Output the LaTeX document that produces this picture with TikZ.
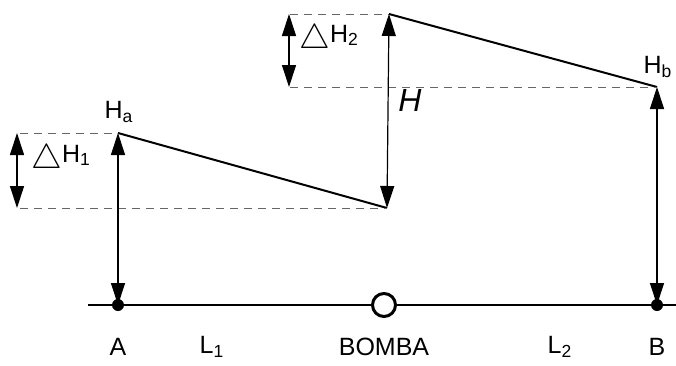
\documentclass[tikz,border=0pt]{standalone}
\usepackage{fontspec}
\setmainfont{Liberation Sans}
\usetikzlibrary{arrows.meta, positioning}
\tikzset{
    % --- Head line / level arrow (double headed) ---
    level arrow/.style = {
        {Triangle[length=11pt, width=7pt]}-{Triangle[length=11pt, width=7pt]},
        line width=0.6pt
    },
    % --- Hydraulic grade line ---
    grade line/.style = {
        line width=1pt
    },
    % --- Reference level (dashed) ---
    ref level/.style = {
        dashed, dash pattern=on 4pt off 3pt, line width=0.5pt, black!60
    },
    % --- Pipe axis ---
    pipe/.style = {
        line width=0.8pt
    },
    % --- Point on the pipe ---
    dot/.style = {
        circle, fill=black, minimum size=6pt, inner sep=0pt
    },
    % --- Pump symbol ---
    pump/.style = {
        circle, draw, line width=1.5pt, fill=white,
        minimum size=11.5pt, inner sep=0pt
    },
    % --- Text labels ---
    label text/.style = {
        font=\fontsize{12.5}{15}\selectfont, inner sep=1pt
    }
}
% head loss label
\newcommand{\headloss}[1]{%
    {\fontsize{18}{18}\selectfont$\triangle$}\raisebox{0.5ex}{H\textsubscript{#1}}}

\begin{document}
\begin{tikzpicture}[x=0.5pt, y=-0.5pt]
\useasboundingbox (0,0) rectangle (676,365);

% ---------------------------------------------------------
% Pipe with points A, B and the pump
% ---------------------------------------------------------
\coordinate (PipeL) at (88, 305);
\coordinate (PipeR) at (676, 305);
\draw[pipe] (PipeL) -- (PipeR);

\node[dot] (A) at (118, 305) {};
\node[dot] (B) at (657, 305) {};
\node[pump] (Pump) at (384, 305) {};

\node[label text] (LA) at (118, 347) {A};
\node[label text] (LL1) at (212, 347) {L\textsubscript{1}};
\node[label text] (LPump) at (384, 347) {BOMBA};
\node[label text] (LL2) at (560, 347) {L\textsubscript{2}};
\node[label text] (LB) at (657, 347) {B};

% ---------------------------------------------------------
% Grade line levels
% ---------------------------------------------------------
\coordinate (Ha) at (118, 133);
\coordinate (Hin) at (387, 208);
\coordinate (Hout) at (389, 14);
\coordinate (Hb) at (657, 87);

\draw[grade line] (Ha) -- (Hin);
\draw[grade line] (Hout) -- (Hb);

% reference levels
\coordinate (R1) at (20, 133);
\coordinate (R2) at (20, 208);
\coordinate (R3) at (290, 14);
\coordinate (R4) at (290, 87);
\draw[ref level] (R1) -- (Ha);
\draw[ref level] (R2) -- (Hin);
\draw[ref level] (R3) -- (Hout);
\draw[ref level] (R4) -- (Hb);

% ---------------------------------------------------------
% Heights
% ---------------------------------------------------------
\draw[level arrow] (A.center) -- (Ha);
\draw[level arrow] (B.center) -- (Hb);
\draw[level arrow] (Hin) -- (Hout);

\coordinate (D1t) at (17, 133);
\coordinate (D1b) at (17, 208);
\coordinate (D2t) at (289, 14);
\coordinate (D2b) at (289, 87);
\draw[level arrow] (D1t) -- (D1b);
\draw[level arrow] (D2t) -- (D2b);

\node[label text] (LHa) at (119, 112) {H\textsubscript{a}};
\node[label text] (LHb) at (658, 67) {H\textsubscript{b}};
\node[font=\fontsize{16}{18}\selectfont\itshape] (LH) at (410, 100) {H};
\node[label text, anchor=west] (LD1) at (29, 160) {\headloss{1}};
\node[label text, anchor=west] (LD2) at (297, 40) {\headloss{2}};

\end{tikzpicture}
\end{document}
